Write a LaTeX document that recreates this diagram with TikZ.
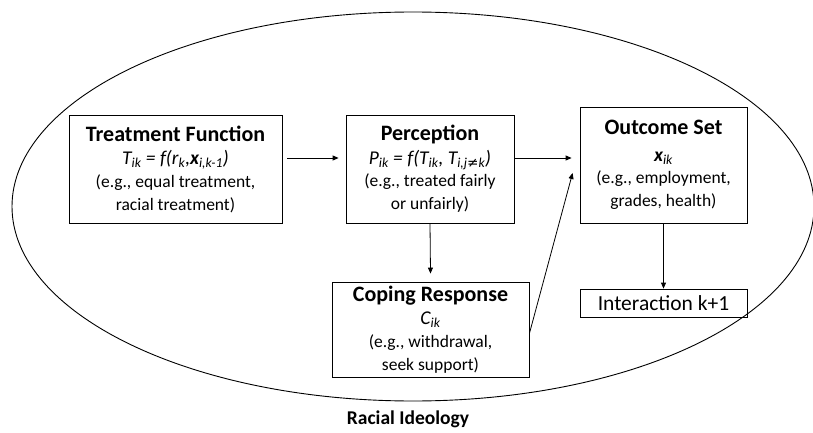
\documentclass[tikz,border=0pt]{standalone}
\usepackage{fontspec}
\setmainfont{Carlito}
\newfontfamily\djv{DejaVu Sans}
\usetikzlibrary{arrows.meta}
\newcommand{\sbs}[1]{\textsubscript{\itshape #1}}
\tikzset{
  box/.style={draw, line width=0.8pt, align=center, inner sep=0pt,
    font=\fontsize{17.5}{21.5}\selectfont},
  arr/.style={line width=0.8pt, -{Triangle[length=6pt,width=5pt]}},
}
\newcommand{\ttlf}{\bfseries\fontsize{22}{24}\selectfont}
\newcommand{\frmf}{\itshape\fontsize{19.5}{22}\selectfont}
\begin{document}
\begin{tikzpicture}[x=1pt,y=-1pt]
\useasboundingbox (0,0) rectangle (813,433);
\draw[line width=0.9pt] (413,206.5) ellipse [x radius=401pt, y radius=194.5pt];

\node[box, minimum width=213pt, minimum height=108pt] (tf) at (175.5,169)
  {{\ttlf Treatment Function}\\[2pt]
   {\frmf T\sbs{ik} = f(r\sbs{k},\textbf{x}\sbs{i,k-1})}\\[1pt]
   (e.g., equal treatment,\\[1.5pt] racial treatment)};
\node[box, minimum width=168pt, minimum height=108pt] (pe) at (430,169)
  {{\ttlf Perception}\\[2pt]
   {\frmf P\sbs{ik} = f(T\sbs{ik}, T\sbs{i,j{\djv\upshape ≠}k})}\\[1pt]
   (e.g., treated fairly\\[1.5pt] or unfairly)};
\node[box, minimum width=167pt, minimum height=116pt] (os) at (663.5,165)
  {{\ttlf Outcome Set}\\[5pt]
   {\frmf\textbf{x}\sbs{ik}}\\[1pt]
   (e.g., employment,\\[1.5pt] grades, health)};
\node[box, minimum width=197pt, minimum height=95pt] (cr) at (430.5,329.5)
  {{\ttlf Coping Response}\\[2pt]
   {\frmf C\sbs{ik}}\\[1.5pt]
   (e.g., withdrawal,\\[1.5pt] seek support)};
\node[box, minimum width=167pt, minimum height=28pt, font=\fontsize{21.5}{24}\selectfont] (ia) at (663.5,303)
  {Interaction k+1};
\node[anchor=base, font=\bfseries\fontsize{19.5}{22}\selectfont, inner sep=0pt] (ri) at (408,424) {Racial Ideology};

\draw[arr] ([shift={(5pt,11pt)}]tf.east) -- ([shift={(-7pt,11pt)}]pe.west);
\draw[arr] ([yshift=11pt]pe.east) -- ([shift={(-8pt,7pt)}]os.west);
\draw[arr] (pe.south) -- ([yshift=8pt]cr.north);
\draw[arr] (os.south) -- (ia.north);
\draw[arr] ([yshift=-4pt]cr.east) -- ([shift={(-7pt,-8pt)}]os.west);
\end{tikzpicture}
\end{document}
